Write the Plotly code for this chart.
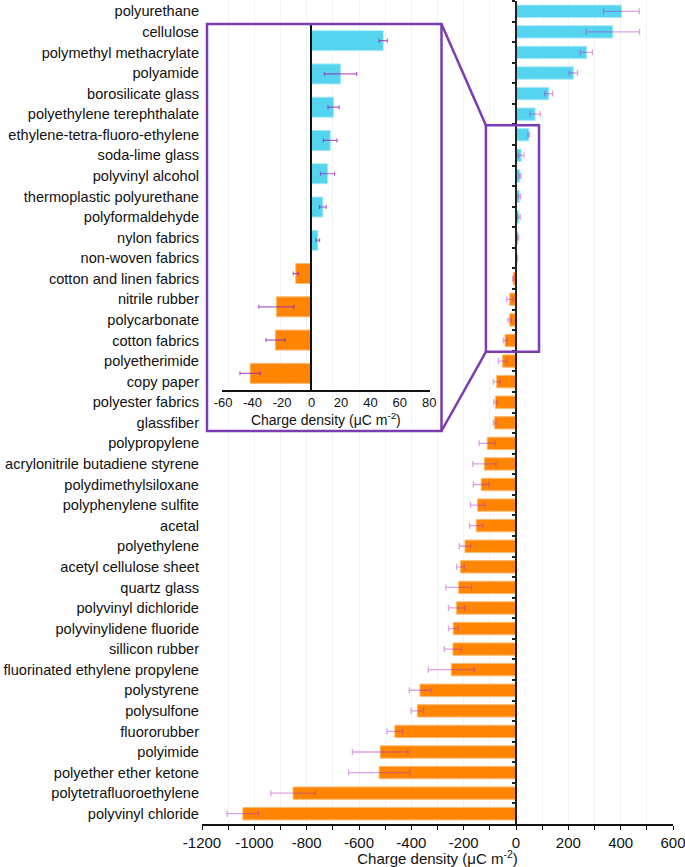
import plotly.graph_objects as go

# ---------------- data ----------------
materials = [
    "polyurethane", "cellulose", "polymethyl methacrylate", "polyamide",
    "borosilicate glass", "polyethylene terephthalate",
    "ethylene-tetra-fluoro-ethylene", "soda-lime glass", "polyvinyl alcohol",
    "thermoplastic polyurethane", "polyformaldehyde", "nylon fabrics",
    "non-woven fabrics", "cotton and linen fabrics", "nitrile rubber",
    "polycarbonate", "cotton fabrics", "polyetherimide", "copy paper",
    "polyester fabrics", "glassfiber", "polypropylene",
    "acrylonitrile butadiene styrene", "polydimethylsiloxane",
    "polyphenylene sulfite", "acetal", "polyethylene", "acetyl cellulose sheet",
    "quartz glass", "polyvinyl dichloride", "polyvinylidene fluoride",
    "sillicon rubber", "fluorinated ethylene propylene", "polystyrene",
    "polysulfone", "fluororubber", "polyimide", "polyether ether ketone",
    "polytetrafluoroethylene", "polyvinyl chloride",
]
charge = [
    403, 370, 269, 219, 125, 73,
    48.7, 19.7, 15.0, 12.7, 10.9, 7.7, 4.3, -10.7, -23.8, -24.5, -41.7,
    -51, -74, -79, -81.5, -110, -121, -133, -147, -152, -195, -212,
    -219, -227, -240, -241, -247, -367, -377, -463, -519, -523, -852, -1044,
]
error = [
    68, 102, 23, 16, 15, 20,
    2.8, 11, 3.8, 4.6, 4.8, 2.3, 1.2, 1.7, 12, 6.4, 6.9,
    16, 13, 6, 5, 31, 44, 30, 27, 25, 22, 15,
    49, 31, 18, 33, 88, 41, 24, 30, 106, 117, 85, 60,
]
inset_first = "ethylene-tetra-fluoro-ethylene"
inset_last = "cotton fabrics"

x_ticks_main = [-1200, -1000, -800, -600, -400, -200, 0, 200, 400, 600]
x_ticks_inset = [-60, -40, -20, 0, 20, 40, 60, 80]

# ---------------- styling / layout ----------------
W, H = 685, 867
ML, MR, MT, MB = 202, 12, 1, 43
PW, PH = W - ML - MR, H - MT - MB
XMIN, XMAX = -1200, 600
IXMIN, IXMAX = -61, 80.5

CYAN, ORANGE = "#55d4ef", "#ff8500"
CYAN_E, ORANGE_E = "#a3e8f7", "#ffb970"
PURPLE = "#7a3cb0"
GRID = "#eef5f5"
FONT = "Liberation Sans, Arial, sans-serif"
TITLE = "Charge density (μC m<sup>-2</sup>)"


def fx(px):
    return (px - ML) / PW


def fy(py):
    return (H - MB - py) / PH


n = len(materials)
i0 = materials.index(inset_first)
i1 = materials.index(inset_last)
ins_names = materials[i0:i1 + 1]
ins_vals = charge[i0:i1 + 1]
ins_err = error[i0:i1 + 1]

colors = [CYAN if v > 0 else ORANGE for v in charge]
edges = [CYAN_E if v > 0 else ORANGE_E for v in charge]
ins_colors = [CYAN if v > 0 else ORANGE for v in ins_vals]
ins_edges = [CYAN_E if v > 0 else ORANGE_E for v in ins_vals]

fig = go.Figure()

fig.add_trace(go.Bar(
    x=charge, y=materials, orientation="h", width=0.6,
    marker=dict(color=colors, line=dict(color=edges, width=1)),
    error_x=dict(type="data", array=error, color="rgba(170,50,190,0.45)",
                 thickness=1.3, width=3),
    xaxis="x", yaxis="y", showlegend=False, hoverinfo="x+y",
))
# invisible helper trace to carry the zero axis with ticks
fig.add_trace(go.Scatter(
    x=[0] * n, y=materials, mode="markers", marker=dict(opacity=0),
    xaxis="x", yaxis="y2", showlegend=False, hoverinfo="skip",
))
fig.add_trace(go.Bar(
    x=ins_vals, y=ins_names, orientation="h", width=0.6,
    marker=dict(color=ins_colors, line=dict(color=ins_edges, width=1)),
    error_x=dict(type="data", array=ins_err, color="rgba(150,40,185,0.75)",
                 thickness=1.2, width=2),
    xaxis="x2", yaxis="y3", showlegend=False, hoverinfo="x+y",
))

# main box & connectors
bx0, bx1 = -115, 88
by0, by1 = i0 - 0.46, i1 + 0.55
shapes = [
    dict(type="rect", xref="x", yref="y", x0=bx0, x1=bx1, y0=by0, y1=by1,
         line=dict(color=PURPLE, width=2.5)),
    dict(type="rect", xref="paper", yref="paper", x0=fx(207), x1=fx(441.5),
         y0=fy(431), y1=fy(24), line=dict(color=PURPLE, width=2.5)),
]
bpx = (bx0 - XMIN) / (XMAX - XMIN)
bpy_top = (n - 0.5 - by0) / n
bpy_bot = (n - 0.5 - by1) / n
shapes += [
    dict(type="line", xref="paper", yref="paper", x0=fx(441.5), y0=fy(24),
         x1=bpx, y1=bpy_top, line=dict(color=PURPLE, width=2.5)),
    dict(type="line", xref="paper", yref="paper", x0=fx(441.5), y0=fy(431),
         x1=bpx, y1=bpy_bot, line=dict(color=PURPLE, width=2.5)),
]

ix_dom = [fx(221.7), fx(430)]
ix_zero = ix_dom[0] + (0 - IXMIN) / (IXMAX - IXMIN) * (ix_dom[1] - ix_dom[0])

fig.update_layout(
    width=W, height=H,
    margin=dict(l=ML, r=MR, t=MT, b=MB, autoexpand=False),
    paper_bgcolor="white", plot_bgcolor="rgba(0,0,0,0)",
    font=dict(family=FONT, size=15, color="#111"),
    bargap=0.4,
    shapes=shapes,
    xaxis=dict(
        range=[XMIN, XMAX], tickvals=x_ticks_main,
        ticktext=[str(v) for v in x_ticks_main], ticklabeloverflow="allow",
        showline=True, linecolor="#111", linewidth=1.5,
        ticks="outside", ticklen=4, tickcolor="#111", tickwidth=1,
        showgrid=True, gridcolor=GRID, gridwidth=1, zeroline=False,
        minor=dict(dtick=100, tick0=0, ticks="outside", ticklen=4,
                   tickcolor="#111", showgrid=True, gridcolor=GRID),
        tickfont=dict(size=15),
        title=dict(text=TITLE, font=dict(size=15), standoff=6),
        domain=[0, 1], anchor="y", automargin=False,
    ),
    yaxis=dict(
        type="category", categoryorder="array", categoryarray=materials,
        range=[n - 0.5, -0.5], showline=False, ticks="", showgrid=False,
        zeroline=False, tickfont=dict(size=14.6), domain=[0, 1], anchor="x",
        ticklabelstandoff=2, automargin=False, ticklabeloverflow="allow",
    ),
    yaxis2=dict(
        type="category", categoryorder="array", categoryarray=materials,
        range=[n - 0.5, -0.5], overlaying="y", anchor="free",
        position=(0 - XMIN) / (XMAX - XMIN),
        showline=True, linecolor="#222", linewidth=1.5,
        ticks="outside", ticklen=3, tickwidth=1.5, tickcolor="#222",
        tickson="boundaries", showticklabels=False, showgrid=False,
        zeroline=False,
    ),
    xaxis2=dict(
        domain=ix_dom, anchor="y3", range=[IXMIN, IXMAX],
        tickvals=x_ticks_inset, ticktext=[str(v) for v in x_ticks_inset],
        showline=True, linecolor="#111", linewidth=1.5,
        ticks="", showgrid=False, zeroline=False, tickfont=dict(size=13),
        title=dict(text=TITLE, font=dict(size=14), standoff=4),
    ),
    yaxis3=dict(
        domain=[fy(390), fy(24)], anchor="free", position=ix_zero,
        type="category", categoryorder="array", categoryarray=ins_names,
        range=[len(ins_names) - 0.5, -0.5], showticklabels=False,
        showline=True, linecolor="#111", linewidth=1.5,
        ticks="", showgrid=False, zeroline=False,
    ),
)

fig.write_html("out.html", config={"displayModeBar": False},
               post_script="document.body.style.margin='0';")
